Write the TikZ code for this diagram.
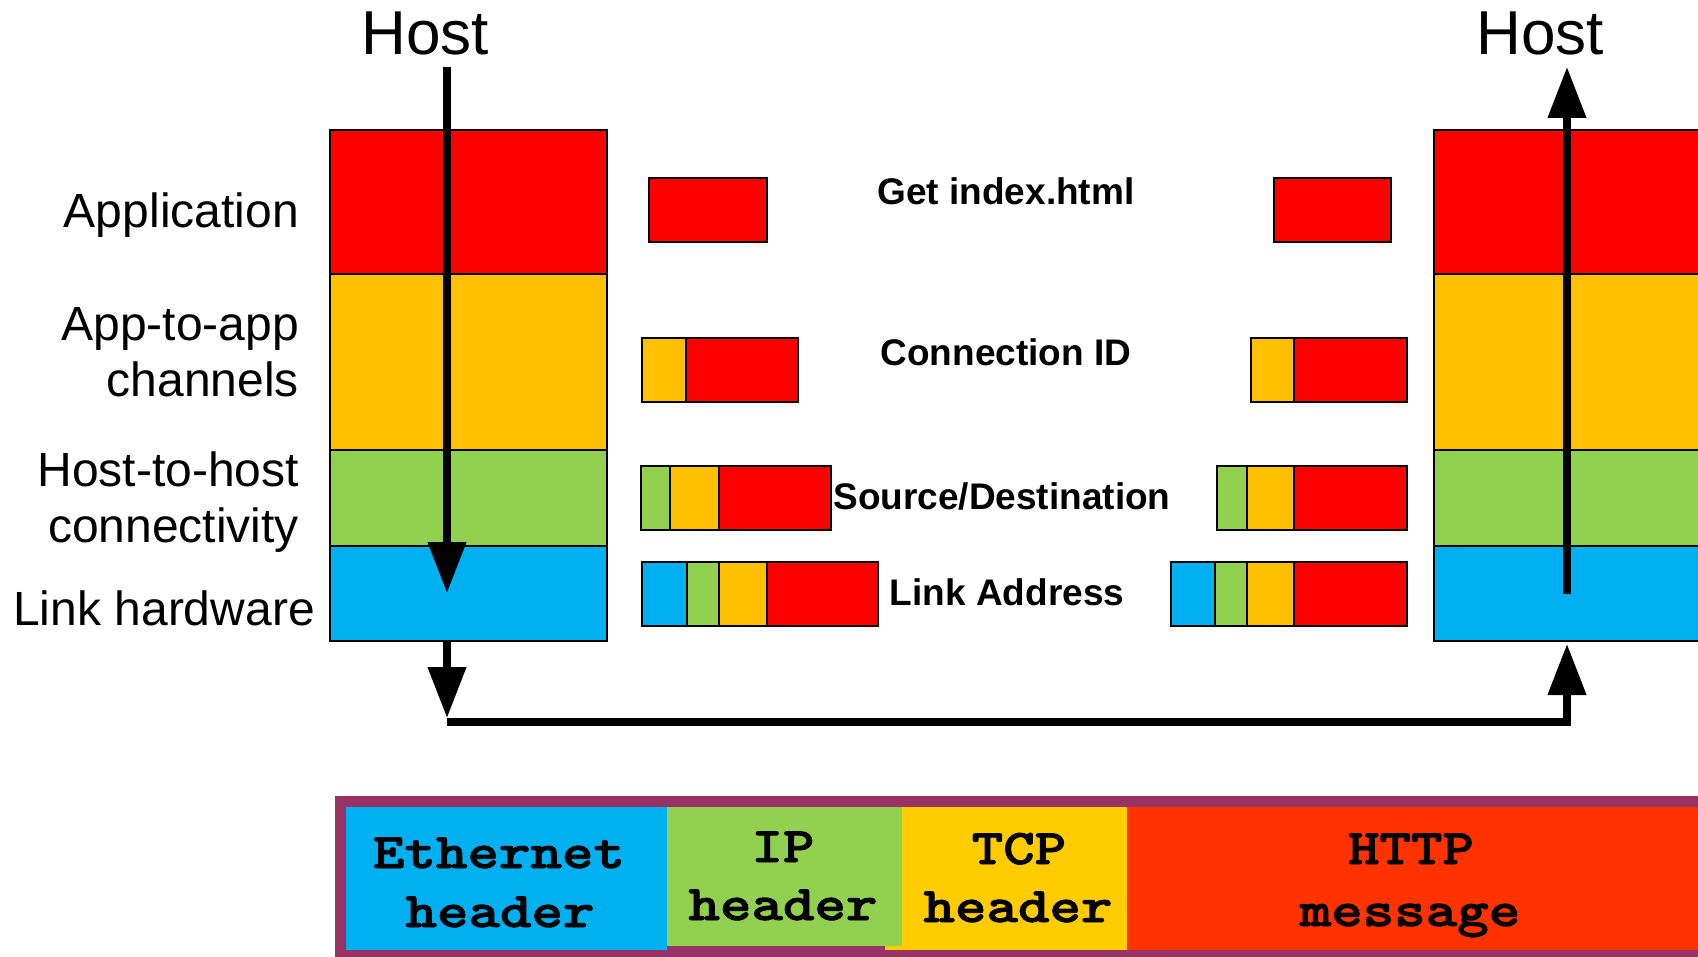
\documentclass[tikz,border=0pt]{standalone}
\usepackage{graphicx}
\usepackage{fontspec}
\setmainfont{Liberation Sans}
% heavy slab-serif typewriter face for the frame layout
\newfontfamily\framefont{lmmonolt10-bold.otf}[FakeBold=1.6]
\usetikzlibrary{arrows.meta}

\definecolor{appred}{HTML}{FF0000}
\definecolor{chanorange}{HTML}{FFC000}
\definecolor{hostgreen}{HTML}{92D050}
\definecolor{linkblue}{HTML}{00B0F0}
\definecolor{tcpyellow}{HTML}{FFCC00}
\definecolor{httpred}{HTML}{FF3300}
\definecolor{framepurple}{HTML}{993366}

% widened to a Courier-like pitch
\newcommand\typewide[1]{\scalebox{1.2}[1]{#1}}

\tikzset{
  layer/.style={draw=black, line width=2pt, inner sep=0pt, outer sep=0pt,
                anchor=north west},
  pkt/.style={layer, minimum height=64},
  legcell/.style={inner sep=0pt, outer sep=0pt, anchor=north west},
  hostlabel/.style={inner sep=0pt, anchor=base, font=\fontsize{62}{70}\selectfont},
  layerlabel/.style={inner sep=0pt, anchor=base east, font=\fontsize{48}{56}\selectfont},
  pktlabel/.style={inner sep=0pt, anchor=base, font=\bfseries\fontsize{37}{44}\selectfont},
  leglabel/.style={inner sep=0pt, anchor=base, font=\framefont\fontsize{50}{58}\selectfont},
  flow/.style={line width=7.5pt, -{Triangle[length=51pt,width=37pt]}},
}

\begin{document}
\begin{tikzpicture}[x=1pt, y=-1pt]
\clip (0,0) rectangle (1698,957);
\fill[white] (0,0) rectangle (1698,957);

% ---- sending host protocol stack ----
\node[layer, fill=appred,     minimum width=277, minimum height=144] (LA) at (330,130) {};
\node[layer, fill=chanorange, minimum width=277, minimum height=176] (LC) at (330,274) {};
\node[layer, fill=hostgreen,  minimum width=277, minimum height=96]  (LH) at (330,450) {};
\node[layer, fill=linkblue,   minimum width=277, minimum height=95]  (LL) at (330,546) {};

% ---- receiving host protocol stack ----
\node[layer, fill=appred,     minimum width=300, minimum height=144] (RA) at (1434,130) {};
\node[layer, fill=chanorange, minimum width=300, minimum height=176] (RC) at (1434,274) {};
\node[layer, fill=hostgreen,  minimum width=300, minimum height=96]  (RH) at (1434,450) {};
\node[layer, fill=linkblue,   minimum width=300, minimum height=95]  (RL) at (1434,546) {};

% ---- layer names ----
\node[layerlabel] (nApp)   at (299,228) {Application};
\node[layerlabel] (nChan1) at (299,341) {App-to-app};
\node[layerlabel] (nChan2) at (299,397) {channels};
\node[layerlabel] (nHost1) at (299,486) {Host-to-host};
\node[layerlabel] (nHost2) at (299,542) {connectivity};
\node[layerlabel] (nLink)  at (315,625) {Link hardware};

% ---- host captions ----
\node[hostlabel] (hostL) at (425,55) {Host};
\node[hostlabel] (hostR) at (1540,55) {Host};

% ---- encapsulated packets, sender side ----
\node[pkt, fill=appred,     minimum width=118] (s1a) at (649,178) {};

\node[pkt, fill=chanorange, minimum width=44]  (s2t) at (642,338) {};
\node[pkt, fill=appred,     minimum width=112] (s2a) at (686,338) {};

\node[pkt, fill=hostgreen,  minimum width=29]  (s3i) at (641,466) {};
\node[pkt, fill=chanorange, minimum width=49]  (s3t) at (670,466) {};
\node[pkt, fill=appred,     minimum width=112] (s3a) at (719,466) {};

\node[pkt, fill=linkblue,   minimum width=45]  (s4e) at (642,562) {};
\node[pkt, fill=hostgreen,  minimum width=32]  (s4i) at (687,562) {};
\node[pkt, fill=chanorange, minimum width=48]  (s4t) at (719,562) {};
\node[pkt, fill=appred,     minimum width=111] (s4a) at (767,562) {};

% ---- encapsulated packets, receiver side ----
\node[pkt, fill=appred,     minimum width=117] (r1a) at (1274,178) {};

\node[pkt, fill=chanorange, minimum width=43]  (r2t) at (1251,338) {};
\node[pkt, fill=appred,     minimum width=113] (r2a) at (1294,338) {};

\node[pkt, fill=hostgreen,  minimum width=30]  (r3i) at (1217,466) {};
\node[pkt, fill=chanorange, minimum width=47]  (r3t) at (1247,466) {};
\node[pkt, fill=appred,     minimum width=113] (r3a) at (1294,466) {};

\node[pkt, fill=linkblue,   minimum width=44]  (r4e) at (1171,562) {};
\node[pkt, fill=hostgreen,  minimum width=32]  (r4i) at (1215,562) {};
\node[pkt, fill=chanorange, minimum width=47]  (r4t) at (1247,562) {};
\node[pkt, fill=appred,     minimum width=113] (r4a) at (1294,562) {};

% ---- what each layer adds ----
\node[pktlabel] (tGet)  at (1006,205) {Get index.html};
\node[pktlabel] (tConn) at (1006,366) {Connection ID};
\node[pktlabel] (tSrc)  at (1002,509) {Source/Destination};
\node[pktlabel] (tLink) at (1007,605) {Link Address};

% ---- data path ----
\coordinate (topL)    at (447,67);
\coordinate (tipL)    at (447,593);
\coordinate (outL)    at (447,641);
\coordinate (downL)   at (447,718);
\coordinate (cornerL) at (447,722);
\coordinate (cornerR) at (1567,722);
\coordinate (inR)     at (1567,644);
\coordinate (startR)  at (1567,594);
\coordinate (topR)    at (1567,67);

\draw[flow] (topL) -- (tipL);
\draw[flow] (outL) -- (downL);
\draw[flow, line join=miter] (cornerL) -- (cornerR) -- (inR);
\draw[flow] (startR) -- (topR);

% ---- frame layout legend ----
\fill[framepurple] (334.5,796) rectangle (1720,965);
\node[legcell, fill=linkblue,  minimum width=321, minimum height=143] (gEth)  at (346,807) {};
\node[legcell, fill=tcpyellow, minimum width=242, minimum height=143] (gTcp)  at (885,807) {};
\node[legcell, fill=hostgreen, minimum width=235, minimum height=139] (gIp)   at (667,807) {};
\node[legcell, fill=httpred,   minimum width=600, minimum height=143] (gHttp) at (1127,807) {};

\node[leglabel] (lEth1)  at (499,868)  {\typewide{Ethernet}};
\node[leglabel] (lEth2)  at (500,927)  {\typewide{header}};
\node[leglabel] (lIp1)   at (783,862)  {\typewide{IP}};
\node[leglabel] (lIp2)   at (783,920)  {\typewide{header}};
\node[leglabel] (lTcp1)  at (1019,864) {\typewide{TCP}};
\node[leglabel] (lTcp2)  at (1018,922) {\typewide{header}};
\node[leglabel] (lHttp1) at (1411,864) {\typewide{HTTP}};
\node[leglabel] (lHttp2) at (1410,926) {\typewide{message}};
\end{tikzpicture}
\end{document}
